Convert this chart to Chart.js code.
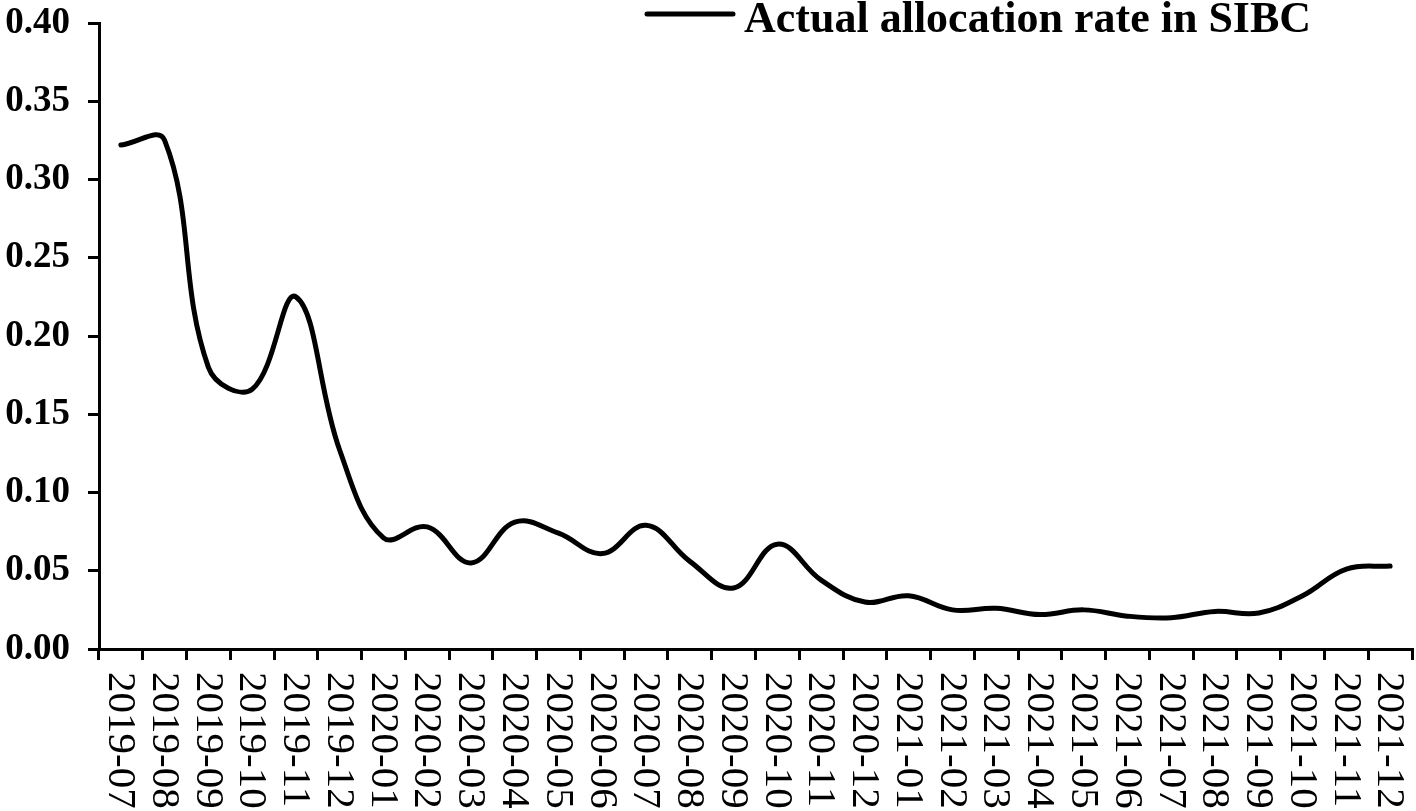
<!DOCTYPE html>
<html>
<head>
<meta charset="utf-8">
<script src="https://cdn.jsdelivr.net/npm/chart.js@4/dist/chart.umd.min.js"></script>
<style>
html,body{margin:0;padding:0;background:#fff;}
#wrap{width:1416px;height:811px;position:relative;}
</style>
</head>
<body>
<div id="wrap"><canvas id="c"></canvas></div>
<script>
const categories = ["2019-07","2019-08","2019-09","2019-10","2019-11","2019-12",
  "2020-01","2020-02","2020-03","2020-04","2020-05","2020-06","2020-07","2020-08","2020-09","2020-10","2020-11","2020-12",
  "2021-01","2021-02","2021-03","2021-04","2021-05","2021-06","2021-07","2021-08","2021-09","2021-10","2021-11","2021-12"];
const allocationRate = [0.322,0.325,0.180,0.166,0.225,0.127,
  0.071,0.078,0.055,0.081,0.074,0.061,0.079,0.056,0.039,0.067,0.044,0.030,
  0.034,0.025,0.026,0.022,0.025,0.021,0.020,0.024,0.023,0.034,0.051,0.053];
const seriesName = "Actual allocation rate in SIBC";
const yMin = 0, yMax = 0.40, yStep = 0.05;

const SERIF = '"Liberation Serif","Times New Roman",serif';

const legendPlugin = {
  id: 'refLegend',
  afterDraw(chart) {
    const ctx = chart.ctx;
    const ds = chart.data.datasets[0];
    ctx.save();
    ctx.strokeStyle = ds.borderColor;
    ctx.lineWidth = 5;
    ctx.lineCap = 'round';
    ctx.beginPath();
    ctx.moveTo(647, 14);
    ctx.lineTo(733, 14);
    ctx.stroke();
    ctx.fillStyle = '#000';
    ctx.font = 'bold 44px ' + SERIF;
    ctx.textAlign = 'left';
    ctx.textBaseline = 'alphabetic';
    ctx.fillText(ds.label, 744, 32);
    ctx.restore();
  }
};

const xLabelPlugin = {
  id: 'xLabels',
  afterDraw(chart) {
    const ctx = chart.ctx;
    const xs = chart.scales.x;
    ctx.save();
    ctx.fillStyle = '#000';
    ctx.font = '41px ' + SERIF;
    ctx.textAlign = 'left';
    ctx.textBaseline = 'middle';
    chart.data.labels.forEach((lab, i) => {
      const x = xs.getPixelForValue(i);
      ctx.save();
      ctx.translate(x - 1, xs.top + 23);
      ctx.rotate(Math.PI / 2);
      ctx.fillText(lab, 0, 0);
      ctx.restore();
    });
    ctx.restore();
  }
};

new Chart(document.getElementById('c'), {
  type: 'line',
  data: {
    labels: categories,
    datasets: [{
      label: seriesName,
      data: allocationRate,
      borderColor: '#000',
      backgroundColor: '#000',
      borderWidth: 5,
      pointRadius: 0,
      tension: 0.4,
      fill: false,
      borderCapStyle: 'round'
    }]
  },
  options: {
    responsive: true,
    maintainAspectRatio: false,
    animation: false,
    devicePixelRatio: 1,
    layout: { padding: { top: 23, right: 4, left: 0, bottom: 0 } },
    plugins: { legend: { display: false }, tooltip: { enabled: false } },
    scales: {
      x: {
        type: 'category',
        offset: true,
        grid: { display: true, drawOnChartArea: false, drawTicks: true, tickLength: 11, offset: true, color: '#000', lineWidth: 3 },
        border: { display: true, color: '#000', width: 3 },
        ticks: { display: false },
        afterFit(s) { s.height = 162; s.paddingLeft = 0; s.paddingRight = 0; }
      },
      y: {
        min: yMin, max: yMax,
        grid: { display: true, drawOnChartArea: false, drawTicks: true, tickLength: 11, color: '#000', lineWidth: 3 },
        border: { display: true, color: '#000', width: 3 },
        ticks: {
          stepSize: yStep,
          padding: 18,
          color: '#000',
          font: { family: SERIF, size: 37, weight: 'bold' },
          callback: v => Number(v).toFixed(2)
        },
        afterFit(s) { s.width = 99; s.paddingTop = 0; s.paddingBottom = 0; }
      }
    }
  },
  plugins: [legendPlugin, xLabelPlugin]
});
</script>
</body>
</html>
